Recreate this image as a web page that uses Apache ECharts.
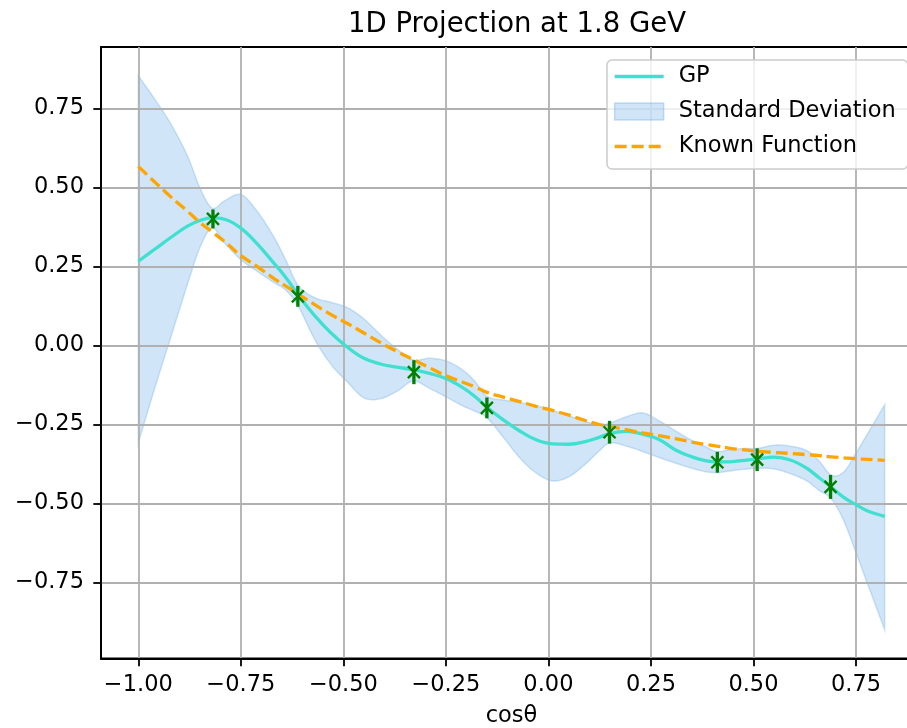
<!DOCTYPE html>
<html>
<head>
<meta charset="utf-8">
<script src="https://cdn.jsdelivr.net/npm/echarts@6/dist/echarts.min.js"></script>
<style>
html, body { margin: 0; padding: 0; background: #fff; }
#main { width: 907px; height: 728px; }
</style>
</head>
<body>
<div id="main"></div>
<script>
// values
var cosTheta = [-1.00, -0.96, -0.92, -0.88, -0.85, -0.82, -0.79, -0.75, -0.71, -0.67,
    -0.64, -0.61, -0.57, -0.53, -0.49, -0.45, -0.41, -0.37, -0.33, -0.29,
    -0.25, -0.21, -0.18, -0.15, -0.11, -0.07, -0.03, 0.01, 0.05, 0.09,
    0.12, 0.15, 0.19, 0.23, 0.27, 0.31, 0.35, 0.38, 0.41, 0.44,
    0.47, 0.51, 0.55, 0.59, 0.63, 0.66, 0.69, 0.72, 0.75, 0.78, 0.82];

var gpMean = [0.267, 0.305, 0.343, 0.378, 0.396, 0.404, 0.400, 0.372, 0.322, 0.262,
    0.215, 0.160, 0.095, 0.040, -0.005, -0.040, -0.058, -0.068, -0.076, -0.088,
    -0.104, -0.132, -0.160, -0.195, -0.235, -0.270, -0.298, -0.311, -0.312, -0.304,
    -0.292, -0.278, -0.271, -0.280, -0.297, -0.330, -0.352, -0.363, -0.368, -0.368,
    -0.364, -0.358, -0.353, -0.362, -0.388, -0.418, -0.448, -0.480, -0.503, -0.524, -0.540];

var gpUpper = [0.854, 0.780, 0.700, 0.600, 0.500, 0.435, 0.458, 0.478, 0.425, 0.345,
    0.270, 0.190, 0.152, 0.137, 0.120, 0.085, 0.035, -0.010, -0.045, -0.040,
    -0.048, -0.076, -0.112, -0.160, -0.172, -0.180, -0.190, -0.205, -0.222, -0.240,
    -0.250, -0.245, -0.225, -0.213, -0.238, -0.270, -0.300, -0.318, -0.335, -0.330,
    -0.326, -0.325, -0.315, -0.318, -0.332, -0.365, -0.410, -0.400, -0.340, -0.275, -0.187];

var gpLower = [-0.308, -0.135, 0.030, 0.195, 0.310, 0.372, 0.325, 0.272, 0.235, 0.200,
    0.175, 0.125, 0.020, -0.060, -0.115, -0.165, -0.168, -0.145, -0.112, -0.135,
    -0.162, -0.190, -0.207, -0.228, -0.290, -0.355, -0.403, -0.428, -0.415, -0.375,
    -0.338, -0.308, -0.318, -0.335, -0.354, -0.372, -0.388, -0.398, -0.402, -0.397,
    -0.392, -0.388, -0.390, -0.405, -0.428, -0.458, -0.485, -0.553, -0.655, -0.760, -0.899];

var knownFunction = [0.567, 0.518, 0.470, 0.425, 0.390, 0.360, 0.330, 0.285, 0.250, 0.213,
    0.188, 0.163, 0.130, 0.098, 0.070, 0.040, 0.010, -0.018, -0.044, -0.070,
    -0.095, -0.115, -0.130, -0.148, -0.163, -0.177, -0.192, -0.205, -0.220, -0.237,
    -0.248, -0.256, -0.266, -0.276, -0.285, -0.294, -0.305, -0.312, -0.318, -0.324,
    -0.329, -0.334, -0.338, -0.341, -0.345, -0.348, -0.352, -0.355, -0.358, -0.360, -0.363];

var obsX = [-0.818, -0.611, -0.328, -0.150, 0.149, 0.412, 0.509, 0.688];
var obsY = [0.401, 0.156, -0.084, -0.197, -0.274, -0.369, -0.361, -0.447];
var obsErr = [0.030, 0.033, 0.038, 0.033, 0.036, 0.033, 0.036, 0.038];

var xTicks = [-1.00, -0.75, -0.50, -0.25, 0.00, 0.25, 0.50, 0.75];
var yTicks = [-0.75, -0.50, -0.25, 0.00, 0.25, 0.50, 0.75];

var FONT = 'DejaVu Sans';
var bandFill = 'rgba(100,170,230,0.3)';

function pairs(xs, ys) {
    var out = [];
    for (var i = 0; i < xs.length; i++) out.push([xs[i], ys[i]]);
    return out;
}

function tickText(v) {
    return v.toFixed(2).replace('-', '\u2212');
}

// catmull-rom through pixel points so the band edge is drawn as a curve
function smoothEdge(pts, steps) {
    var out = [];
    var n = pts.length;
    for (var i = 0; i < n - 1; i++) {
        var p0 = pts[Math.max(i - 1, 0)], p1 = pts[i], p2 = pts[i + 1], p3 = pts[Math.min(i + 2, n - 1)];
        for (var k = 0; k < steps; k++) {
            var t = k / steps, t2 = t * t, t3 = t2 * t;
            out.push([
                0.5 * (2 * p1[0] + (-p0[0] + p2[0]) * t + (2 * p0[0] - 5 * p1[0] + 4 * p2[0] - p3[0]) * t2 + (-p0[0] + 3 * p1[0] - 3 * p2[0] + p3[0]) * t3),
                0.5 * (2 * p1[1] + (-p0[1] + p2[1]) * t + (2 * p0[1] - 5 * p1[1] + 4 * p2[1] - p3[1]) * t2 + (-p0[1] + 3 * p1[1] - 3 * p2[1] + p3[1]) * t3)
            ]);
        }
    }
    out.push(pts[n - 1]);
    return out;
}

var myChart = echarts.init(document.getElementById('main'));

var option = {
    backgroundColor: '#ffffff',
    animation: false,
    textStyle: { fontFamily: FONT },
    title: {
        text: '1D Projection at 1.8 GeV',
        left: 512,
        top: 6,
        textAlign: 'center',
        textStyle: { fontFamily: FONT, fontSize: 27.5, fontWeight: 'normal', color: '#000' }
    },
    legend: {
        orient: 'vertical',
        left: 607,
        top: 60,
        padding: [5, 12, 11, 6],
        itemGap: 12,
        itemWidth: 49,
        itemHeight: 17,
        backgroundColor: 'rgba(255,255,255,0.8)',
        borderColor: '#cccccc',
        borderWidth: 1.5,
        borderRadius: 5,
        z: 20,
        textStyle: { fontFamily: FONT, fontSize: 22.5, color: '#000', padding: [0, 0, 0, 10] },
        data: [
            { name: 'GP', itemStyle: { opacity: 0 }, lineStyle: { width: 3.3, color: '#40E0D0' } },
            { name: 'Standard Deviation', icon: 'rect', itemStyle: { color: bandFill, borderColor: 'rgba(100,170,230,0.35)', borderWidth: 1.5 } },
            { name: 'Known Function', itemStyle: { opacity: 0 }, lineStyle: { width: 3.3, color: '#FFA500', type: [12, 5] } }
        ]
    },
    grid: {
        left: 101,
        right: -15,
        top: 47,
        bottom: 69.5,
        show: true,
        borderColor: '#000',
        borderWidth: 1.8,
        outerBoundsMode: 'none'
    },
    xAxis: {
        type: 'value',
        min: -1.091,
        max: 0.911,
        name: 'cosθ',
        nameLocation: 'middle',
        nameGap: 46,
        nameTextStyle: { fontFamily: FONT, fontSize: 22.5, color: '#000' },
        axisLine: { show: true, onZero: false, lineStyle: { color: '#000', width: 1.8 } },
        axisTick: { show: true, length: 7.7, customValues: xTicks, lineStyle: { color: '#000', width: 1.8 } },
        axisLabel: { customValues: xTicks, formatter: tickText, fontFamily: FONT, fontSize: 22.5, color: '#000', margin: 15 },
        splitLine: { show: true, lineStyle: { color: '#b0b0b0', width: 1.8 } }
    },
    yAxis: {
        type: 'value',
        min: -0.99,
        max: 0.945,
        axisLine: { show: true, onZero: false, lineStyle: { color: '#000', width: 1.8 } },
        axisTick: { show: true, length: 7.7, customValues: yTicks, lineStyle: { color: '#000', width: 1.8 } },
        axisLabel: { customValues: yTicks, formatter: tickText, fontFamily: FONT, fontSize: 22.5, color: '#000', margin: 17 },
        splitLine: { show: true, lineStyle: { color: '#b0b0b0', width: 1.8 } }
    },
    series: [
        {
            name: 'Standard Deviation',
            type: 'custom',
            z: -1,
            silent: true,
            itemStyle: { color: bandFill },
            data: [[cosTheta[0], gpMean[0]]],
            renderItem: function (params, api) {
                var up = [], lo = [];
                for (var i = 0; i < cosTheta.length; i++) {
                    up.push(api.coord([cosTheta[i], gpUpper[i]]));
                    lo.push(api.coord([cosTheta[i], gpLower[i]]));
                }
                var pts = smoothEdge(up, 8).concat(smoothEdge(lo, 8).reverse());
                return {
                    type: 'polygon',
                    shape: { points: pts },
                    style: { fill: bandFill, stroke: 'rgba(100,170,230,0.3)', lineWidth: 1.5 }
                };
            }
        },
        {
            name: 'GP',
            type: 'line',
            data: pairs(cosTheta, gpMean),
            symbol: 'none',
            smooth: 0.4,
            z: 3,
            itemStyle: { color: '#40E0D0' },
            lineStyle: { color: '#40E0D0', width: 3.3 }
        },
        {
            name: 'Known Function',
            type: 'line',
            data: pairs(cosTheta, knownFunction),
            symbol: 'none',
            smooth: 0.4,
            z: 4,
            itemStyle: { color: '#FFA500' },
            lineStyle: { color: '#FFA500', width: 3.3, type: [12, 5] }
        },
        {
            name: 'Observations',
            type: 'custom',
            z: 5,
            silent: true,
            data: obsX.map(function (x, i) { return [x, obsY[i], obsErr[i]]; }),
            renderItem: function (params, api) {
                var x = api.value(0), y = api.value(1), e = api.value(2);
                var c = api.coord([x, y]);
                var top = api.coord([x, y + e]);
                var bot = api.coord([x, y - e]);
                var s = 6;
                var green = '#008000';
                return {
                    type: 'group',
                    children: [
                        { type: 'line', shape: { x1: c[0], y1: top[1], x2: c[0], y2: bot[1] }, style: { stroke: green, lineWidth: 3.3 } },
                        { type: 'line', shape: { x1: c[0] - s, y1: c[1] - s, x2: c[0] + s, y2: c[1] + s }, style: { stroke: green, lineWidth: 2.4 } },
                        { type: 'line', shape: { x1: c[0] - s, y1: c[1] + s, x2: c[0] + s, y2: c[1] - s }, style: { stroke: green, lineWidth: 2.4 } }
                    ]
                };
            }
        }
    ]
};

myChart.setOption(option);
</script>
</body>
</html>
